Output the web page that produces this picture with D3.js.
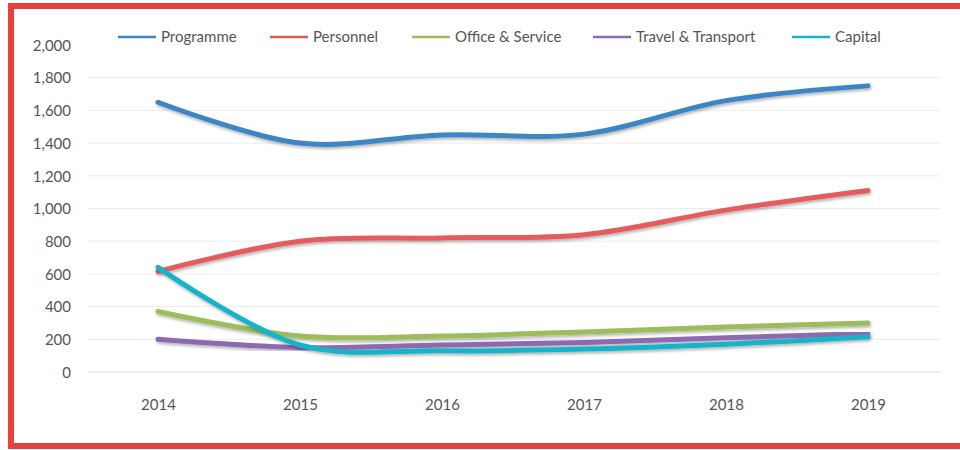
<!DOCTYPE html>
<html><head><meta charset="utf-8">
<script src="https://cdn.jsdelivr.net/npm/d3@7"></script>
<style>html,body{margin:0;padding:0;background:#fff;}svg{display:block;}</style>
</head><body>
<svg id="chart" width="960" height="450"></svg>
<script>
const years = ["2014","2015","2016","2017","2018","2019"];
const seriesNames = ["Programme","Personnel","Office & Service","Travel & Transport","Capital"];
const programme = [1650,1400,1450,1455,1660,1750];
const personnel = [615,800,820,840,990,1110];
const officeService = [370,220,220,245,275,300];
const travelTransport = [200,150,165,180,210,235];
const capital = [640,165,130,140,170,215];
const yTicks = [0,200,400,600,800,1000,1200,1400,1600,1800,2000];
const colors = ["#3b86c3","#e65b5c","#9cbd5a","#8d6bb0","#19b4c8"];

const allSeries = [programme, personnel, officeService, travelTransport, capital];
const svg = d3.select("#chart");
const font = "Lato, 'Open Sans', sans-serif";

const defs = svg.append("defs");
const f = defs.append("filter").attr("id","sh").attr("x","-10%").attr("y","-10%").attr("width","120%").attr("height","130%");
f.append("feDropShadow").attr("dx",1).attr("dy",2).attr("stdDeviation",1.5).attr("flood-color","#000").attr("flood-opacity",0.3);

const x = d3.scalePoint().domain(years).range([158,868]);
const y = d3.scaleLinear().domain([0,2000]).range([372,45]);

// gridlines
svg.append("g").selectAll("line").data(yTicks.filter(d=>d<2000)).join("line")
  .attr("x1",88).attr("x2",940).attr("y1",d=>y(d)).attr("y2",d=>y(d))
  .attr("stroke",d=>d===0?"#d9d9d9":"#ececec").attr("stroke-width",1);

// y axis
const yAxis = svg.append("g").attr("transform","translate(71,0)")
  .call(d3.axisLeft(y).tickValues(yTicks).tickSize(0).tickPadding(0).tickFormat(d3.format(",")));
yAxis.select(".domain").remove();
yAxis.selectAll("text").attr("font-family",font).attr("font-size",15).attr("fill","#555").attr("dy","0.35em");

// x axis
const xAxis = svg.append("g").attr("transform","translate(0,396)")
  .call(d3.axisBottom(x).tickSize(0).tickPadding(0));
xAxis.select(".domain").remove();
xAxis.selectAll("text").attr("font-family",font).attr("font-size",15).attr("fill","#555").attr("dy","0.9em");

// lines
const line = d3.line().x((d,i)=>x(years[i])).y(d=>y(d)).curve(d3.curveCatmullRom.alpha(0.5));
svg.append("g").selectAll("path").data(allSeries).join("path")
  .attr("d",d=>line(d)).attr("fill","none")
  .attr("stroke",(d,i)=>colors[i]).attr("stroke-width",5).attr("stroke-linecap","round")
  .attr("filter","url(#sh)");

// legend
const legendX = [118,270,412,593,792];
const lg = svg.append("g").selectAll("g").data(seriesNames).join("g")
  .attr("transform",(d,i)=>`translate(${legendX[i]},37)`);
lg.append("line").attr("x1",0).attr("x2",38).attr("y1",0).attr("y2",0)
  .attr("stroke",(d,i)=>colors[i]).attr("stroke-width",2.5);
lg.append("text").attr("x",43).attr("y",0).attr("dy","0.35em").text(d=>d)
  .attr("font-family",font).attr("font-size",15).attr("fill","#555");

// red frame
svg.append("rect").attr("x",11).attr("y",6).attr("width",960).attr("height",440)
  .attr("fill","none").attr("stroke","#e8413c").attr("stroke-width",6);
</script>
</body></html>
